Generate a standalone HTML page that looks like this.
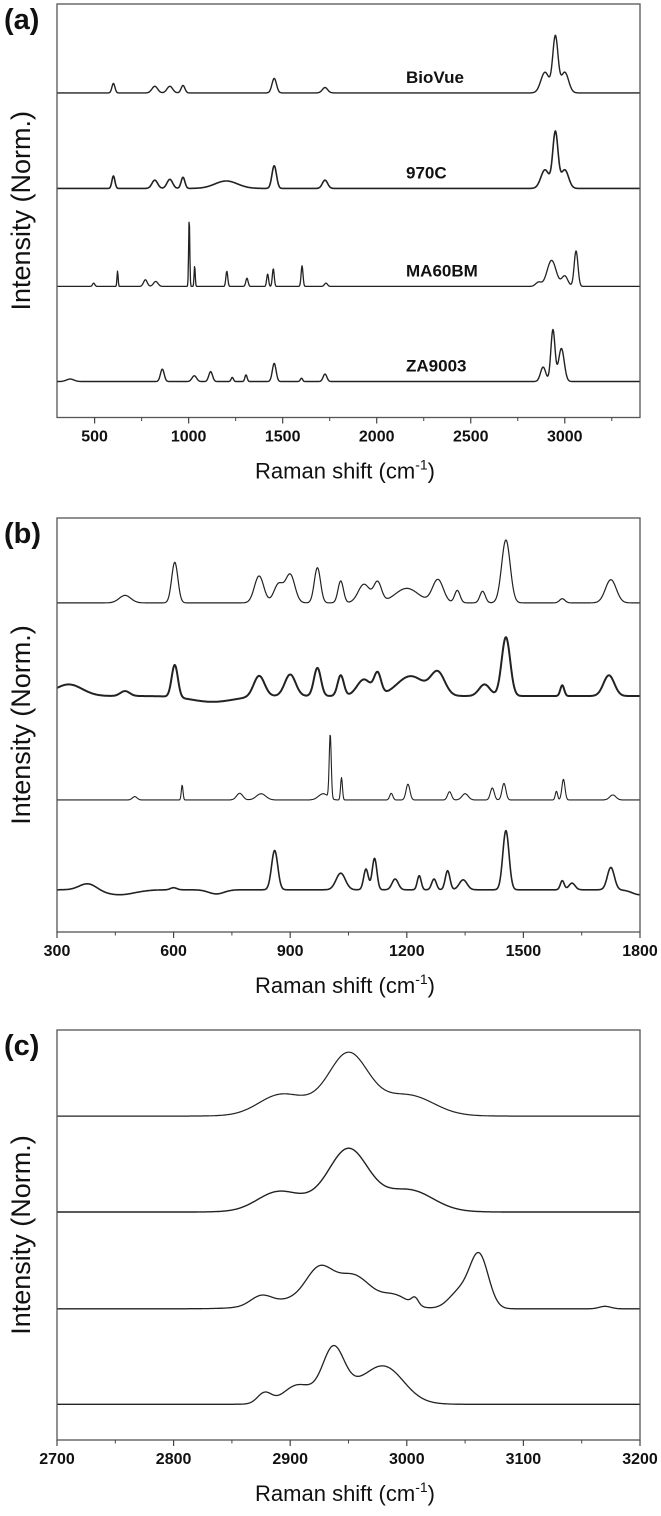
<!DOCTYPE html>
<html><head><meta charset="utf-8"><style>
html,body{margin:0;padding:0;background:#fff;}
svg{display:block;}
text{font-family:"Liberation Sans",Arial,sans-serif;fill:#111;}
</style></head><body>
<svg id="fig" width="661" height="1516" viewBox="0 0 661 1516" xmlns="http://www.w3.org/2000/svg"></svg>
<script>
// ---- Data: panel (a) full range 300-3400 ----
const sampleNames = ["BioVue","970C","MA60BM","ZA9003"];
const aBaselines = [78.5, 55.4, 31.7, 8.7];
const aBioVueCenters = [600,820,900,970,1455,1725,2895,2950,3000];
const aBioVueHeights = [2.3,1.6,1.6,1.8,3.5,1.3,5,13.5,5];
const aBioVueWidths  = [8,15,15,10,12,14,22,14,20];
const a970CCenters = [600,820,900,970,1200,1455,1725,2895,2950,3000];
const a970CHeights = [3,2,2.2,2.7,1.8,5.5,2,4.5,13.5,4.5];
const a970CWidths  = [8,15,15,10,60,12,14,22,14,20];
const aMACenters = [495,622,770,825,1003,1032,1203,1310,1420,1450,1603,1730,2860,2930,3000,3060];
const aMAHeights = [0.8,3.7,1.6,1.2,16.6,5,3.7,2,3,4.3,5,0.8,1,6.3,2.5,8.6];
const aMAWidths  = [6,3,10,12,3,3,5,6,5,5,5,8,15,24,16,10];
const aZACenters = [370,860,1030,1117,1232,1305,1455,1600,1725,2885,2937,2982];
const aZAHeights = [0.6,3,1.4,2.4,1,1.6,4.4,0.8,1.8,3.5,12.5,8];
const aZAWidths  = [20,10,12,10,6,6,10,6,10,14,11,15];
const aTicks = [500,1000,1500,2000,2500,3000];
const aMinor = [750,1250,1750,2250,2750,3250];

// ---- Data: panel (b) 300-1800 ----
const bBaselines = [79.5, 57, 31.9, 10.2];
const bBioVueCenters = [475,603,820,870,900,970,1030,1090,1125,1200,1280,1330,1395,1455,1600,1725];
const bBioVueHeights = [1.8,9.8,6.5,4.5,6.8,8.5,5.3,4.5,4.8,3.5,5.6,3,2.8,15.2,1,5.6];
const bBioVueWidths  = [15,8,12,12,12,8,7,15,10,30,14,7,7,11,7,14];
const b970CCenters = [330,475,603,700,820,900,970,1030,1090,1125,1210,1280,1400,1455,1600,1720];
const b970CHeights = [2.8,1.2,7.8,-1.4,5,5.2,6.8,5,4,5,4.8,5.4,2.8,14.2,2.6,5];
const b970CWidths  = [35,12,8,55,14,14,9,8,18,9,35,18,14,11,5,14];
const bMACenters = [500,622,770,825,985,1003,1032,1160,1203,1310,1350,1420,1450,1585,1603,1730];
const bMAHeights = [0.8,3.6,1.6,1.5,1.5,15.5,5.4,1.6,3.8,2,1.5,2.9,4,2.1,5,1.2];
const bMAWidths  = [6,2.2,8,12,12,2.6,2.4,4,5,5,8,5,5,3,4,8];
const bZACenters = [380,460,600,710,860,1030,1095,1117,1170,1232,1270,1305,1345,1455,1600,1625,1725,1800];
const bZAHeights = [1.6,-1.2,0.5,-1,9.5,4,5,7.6,2.6,3.4,2.6,4.6,2.4,14.3,2.2,1.6,5.4,-1.2];
const bZAWidths  = [22,40,8,20,8,12,6,6,8,5,6,6,10,8,5,8,9,20];
const bTicks = [300,600,900,1200,1500,1800];
const bMinor = [450,750,1050,1350,1650];

// ---- Data: panel (c) 2700-3200 ----
const cBaselines = [79, 55.6, 32, 8.7];
const cBioVueCenters = [2890,2950,3005,2950];
const cBioVueHeights = [4,11.5,3.5,4];
const cBioVueWidths  = [18,16,20,40];
const c970CCenters = [2888,2950,3005,2950];
const c970CHeights = [3.8,11.5,3.8,4];
const c970CWidths  = [17,16,19,40];
const cMACenters = [2875,2925,2955,2930,2990,3007,3045,3062,3170];
const cMAHeights = [2.3,6.5,5.5,3.5,2.5,1.8,4,13,0.6];
const cMAWidths  = [9,11,14,35,11,3,9,8,5];
const cZACenters = [2878,2905,2937,2950,2982];
const cZAHeights = [2.6,3.4,10.5,4,7];
const cZAWidths  = [6,11,9,30,16];
const cTicks = [2700,2800,2900,3000,3100,3200];
const cMinor = [2750,2850,2950,3050,3150];

const NS = "http://www.w3.org/2000/svg";
const svg = document.getElementById("fig");
function mk(tag, attrs, parent){
  const e = document.createElementNS(NS, tag);
  for (const k in attrs) e.setAttribute(k, attrs[k]);
  (parent||svg).appendChild(e);
  return e;
}
function spectrum(x, cs, hs, ws){
  let s = 0;
  for (let i=0;i<cs.length;i++){ const d=(x-cs[i])/ws[i]; s += hs[i]*Math.exp(-0.5*d*d); }
  return s;
}

function panel(key, label, top, bottom, xmin, xmax, ticks, minor, baselines, series, widths, showNames){
  const L=57, R=640;
  const xs = v => L + (v - xmin)/(xmax - xmin)*(R-L);
  const ys = v => bottom - v/100*(bottom-top);
  const g = mk("g", {});
  
  
  const lab = mk("text",{x:4,y:top+25,"font-size":29,"font-weight":"bold"},g);
  lab.textContent = label;
  
  
  series.forEach((s,i)=>{
    let d="";
    for (let px=L; px<=R; px+=0.5){
      const xv = xmin + (px-L)/(R-L)*(xmax-xmin);
      const yv = baselines[i] + spectrum(xv, s[0], s[1], s[2]);
      d += (d?"L":"M")+px.toFixed(1)+","+ys(yv).toFixed(1);
    }
    const p = mk("path",{d:d,fill:"none",stroke:"#222","stroke-width":widths[i],"stroke-linejoin":"round"},g);
    
    
  });
  const fr = mk("rect",{x:L,y:top,width:R-L,height:bottom-top,fill:"none",stroke:"#555","stroke-width":1.3},g);
  
  
  ticks.forEach(t=>{
    mk("line",{x1:xs(t),x2:xs(t),y1:bottom,y2:bottom+6,stroke:"#444","stroke-width":1.2},g);
    const tl = mk("text",{x:xs(t),y:bottom+24,"font-size":16,"font-weight":"bold","text-anchor":"middle"},g);
    tl.textContent = t;
    
    
  });
  minor.forEach(t=>{
    mk("line",{x1:xs(t),x2:xs(t),y1:bottom,y2:bottom+3.5,stroke:"#444","stroke-width":1},g);
  });
  const xt = mk("text",{x:345,y:bottom+61,"font-size":22,"text-anchor":"middle"},g);
  xt.innerHTML = 'Raman shift (cm<tspan dy="-9" font-size="14">-1</tspan><tspan dy="9">)</tspan>';
  
  
  const cy = (top+bottom)/2;
  const yt = mk("text",{x:0,y:0,"font-size":27,"text-anchor":"middle",transform:"translate(30,"+cy+") rotate(-90)"},g);
  yt.textContent = "Intensity (Norm.)";
  
  
  if (showNames){
    sampleNames.forEach((n,i)=>{
      const t = mk("text",{x:406,y:ys(baselines[i])-10,"font-size":17,"font-weight":"bold"},g);
      t.textContent = n;
      
      
    });
  }
}

panel("a","(a)",4,417.5,300,3400,aTicks,aMinor,aBaselines,[
  [aBioVueCenters,aBioVueHeights,aBioVueWidths],
  [a970CCenters,a970CHeights,a970CWidths],
  [aMACenters,aMAHeights,aMAWidths],
  [aZACenters,aZAHeights,aZAWidths]],[1.4,1.6,1.3,1.4],true);
panel("b","(b)",518,932,300,1800,bTicks,bMinor,bBaselines,[
  [bBioVueCenters,bBioVueHeights,bBioVueWidths],
  [b970CCenters,b970CHeights,b970CWidths],
  [bMACenters,bMAHeights,bMAWidths],
  [bZACenters,bZAHeights,bZAWidths]],[1.2,2,1.1,1.6],false);
panel("c","(c)",1030,1440,2700,3200,cTicks,cMinor,cBaselines,[
  [cBioVueCenters,cBioVueHeights,cBioVueWidths],
  [c970CCenters,c970CHeights,c970CWidths],
  [cMACenters,cMAHeights,cMAWidths],
  [cZACenters,cZAHeights,cZAWidths]],[1.2,1.4,1.3,1.3],false);
</script>
</body></html>
